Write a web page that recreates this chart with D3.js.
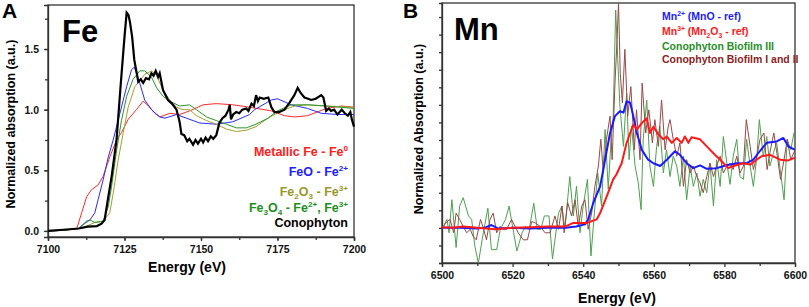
<!DOCTYPE html>
<html>
<head>
<meta charset="utf-8">
<script src="https://cdn.jsdelivr.net/npm/d3@7"></script>
<style>
  body { margin: 0; background: #fff; }
  svg { font-family: "Liberation Sans", Arial, sans-serif; font-weight: bold; }
  .axis path, .axis line { stroke: #333; stroke-width: 1.3; }
  .axis text { font-size: 10.5px; font-weight: bold; fill: #111; font-family: "Liberation Sans", Arial, sans-serif; }
</style>
</head>
<body>
<script>
// ---- panel A: Fe K-edge, [energy, absorption]
var feMetal = [[7100,0],[7105,0.005],[7109.4,0.02],[7111,0.15],[7112.6,0.28],[7114.2,0.34],[7116.4,0.38],[7118,0.45],
  [7120.2,0.61],[7122.4,0.75],[7124,0.81],[7126.2,0.92],[7128.9,1.0],[7131.1,1.07],[7133.3,1.02],[7134.9,0.97],[7136.6,0.94],
  [7139.8,0.97],[7143,0.96],[7146.3,0.99],[7150.7,1.04],[7155,1.05],[7160.4,1.04],[7165.9,1.02],[7173,0.99],[7177.3,0.95],
  [7180.6,0.94],[7184.8,0.95],[7191,1.01],[7195.8,1.03],[7200,1.02]];
var feO = [[7100,0],[7105,0.005],[7110,0.02],[7112.6,0.08],[7113.7,0.09],[7115.3,0.15],[7116.4,0.26],[7118,0.42],[7119.7,0.61],
  [7121.3,0.75],[7123.5,0.97],[7125.7,1.19],[7127.3,1.33],[7128.2,1.35],[7129.5,1.26],[7131.6,1.08],[7133.8,1.0],[7136.5,0.94],
  [7138.2,0.93],[7142,0.96],[7145.2,0.93],[7149.6,0.89],[7155,0.88],[7160.4,0.9],[7165.9,0.96],[7167.5,1.0],[7173,1.08],
  [7175,1.09],[7179.5,1.04],[7184.8,1.01],[7189.3,0.97],[7194.6,0.96],[7200,0.96]];
var fe2o3 = [[7100,0],[7105,0.005],[7110,0.02],[7112.6,0.04],[7115.3,0.07],[7118,0.08],[7120.2,0.15],[7121.3,0.31],[7122.9,0.58],
  [7124.6,0.81],[7126.2,1.02],[7128.4,1.19],[7131.6,1.29],[7133.8,1.32],[7135.5,1.28],[7137.6,1.16],[7139.8,1.08],[7142,1.02],
  [7144.1,1.0],[7146.3,1.0],[7148.5,0.95],[7151.8,0.91],[7155,0.88],[7158.3,0.84],[7161.5,0.82],[7164.8,0.83],[7168,0.86],
  [7171.9,0.93],[7176.2,0.99],[7180.6,1.03],[7184.8,1.04],[7191,1.03],[7200,1.02]];
var fe3o4 = [[7100,0],[7105,0.005],[7110,0.02],[7112,0.06],[7113.7,0.09],[7115.3,0.07],[7118,0.08],[7119.7,0.2],[7120.8,0.37],
  [7122.4,0.66],[7124,0.91],[7125.7,1.11],[7127.8,1.25],[7130,1.32],[7131.6,1.32],[7133.8,1.27],[7135.5,1.18],[7137.6,1.11],
  [7139.8,1.07],[7143,1.03],[7146.3,1.04],[7148.5,1.0],[7151.8,0.94],[7155,0.91],[7158.3,0.88],[7161.5,0.85],[7164.8,0.85],
  [7168,0.88],[7171.9,0.93],[7175,0.99],[7179.5,1.04],[7184.8,1.04],[7191,1.03],[7200,1.01]];
var feConophyton = [[7100,0],[7105,0.01],[7110,0.02],[7113,0.035],[7116,0.04],[7117.5,0.06],[7118.5,0.09],[7119.5,0.25],
  [7120.8,0.45],[7122.4,0.75],[7123.8,1.22],[7125,1.6],[7125.7,1.8],[7126.3,1.78],[7126.8,1.72],[7127.5,1.6],[7128.2,1.41],
  [7129,1.3],[7129.5,1.23],[7130.3,1.25],[7131.1,1.22],[7132,1.26],[7133,1.25],[7133.8,1.3],[7134.5,1.28],[7135.2,1.32],
  [7136,1.27],[7136.5,1.3],[7137.6,1.16],[7138.4,1.12],[7139.2,1.08],[7140.5,1.05],[7142,1.0],[7143,0.9],[7143.6,0.8],
  [7144.5,0.79],[7145.5,0.74],[7146.2,0.76],[7147.4,0.71],[7148.2,0.75],[7149,0.72],[7150,0.76],[7150.7,0.73],[7151.5,0.77],
  [7152.3,0.74],[7153.2,0.78],[7154,0.76],[7155,0.79],[7156,0.89],[7157,0.93],[7158,0.95],[7159,1.0],[7159.4,1.04],
  [7159.8,0.92],[7160.5,0.96],[7161.5,0.98],[7162.5,0.97],[7163.5,1.0],[7164.8,1.01],[7165.5,0.99],[7166.5,1.05],
  [7167.3,1.03],[7168,1.12],[7168.6,1.07],[7169.2,1.1],[7170.5,1.09],[7172,1.1],[7173,1.02],[7174,0.98],[7175.5,0.98],
  [7177.3,1.0],[7179,1.06],[7180.5,1.12],[7181.6,1.18],[7182.5,1.14],[7183.8,1.1],[7185,1.09],[7186,1.08],[7187.5,1.09],
  [7189.3,1.12],[7190,1.1],[7190.9,0.99],[7191.8,1.01],[7192.5,0.99],[7193.5,1.0],[7194.6,0.96],[7196,1.0],[7197,0.97],
  [7198,0.95],[7198.8,0.98],[7199.3,0.92],[7200,0.86]];
var feTicksX = [7100, 7125, 7150, 7175, 7200];
var feTicksY = [0, 0.5, 1.0, 1.5];

// ---- panel B: Mn K-edge
var mnO = [[6500,0],[6505,0],[6510,-0.01],[6512,0],[6514,0.04],[6516,-0.01],[6520,0],[6525,-0.01],[6530,0],[6535,0],
  [6538,0.02],[6540.5,0.05],[6541.4,0.12],[6542.9,0.36],[6544.8,0.59],[6546.2,0.97],[6547.6,1.35],[6549,1.59],[6550.4,1.66],
  [6551.4,1.64],[6552.3,1.8],[6553.3,1.78],[6554.2,1.59],[6555.2,1.35],[6556.6,1.11],[6558.4,0.97],[6559.9,0.92],[6561.8,0.88],
  [6563.7,0.97],[6566,1.09],[6567.4,1.04],[6569.3,0.92],[6571.2,0.85],[6573.1,0.89],[6575,0.84],[6577.8,0.85],[6580.6,0.89],
  [6583.5,0.92],[6586.3,0.92],[6588.2,0.97],[6590,1.09],[6592,1.21],[6594.8,1.23],[6596.7,1.28],[6598.1,1.16],[6600,1.11]];
var mn2o3 = [[6500,0.01],[6503,0],[6506,0.02],[6510,0],[6515,-0.02],[6520,0],[6525,0.01],[6530,0.02],[6535,0.02],[6537.2,0.07],
  [6541,0.07],[6543.8,0.12],[6544.8,0.21],[6546.7,0.45],[6548.5,0.69],[6549.4,0.76],[6550.9,0.92],[6552.3,1.21],[6553.3,1.35],
  [6554.2,1.47],[6555.2,1.4],[6556.6,1.49],[6558,1.56],[6558.9,1.35],[6559.9,1.44],[6561.3,1.33],[6562.7,1.26],[6563.7,1.3],
  [6565.1,1.21],[6566.5,1.28],[6567.9,1.21],[6568.8,1.3],[6569.8,1.21],[6570.7,1.29],[6573.1,1.26],[6575,1.16],[6577.3,1.04],
  [6578.8,0.97],[6581.1,0.85],[6582.5,0.88],[6585.4,0.92],[6587.3,0.9],[6589.1,0.97],[6590.6,1.02],[6592.9,1.04],[6595.8,0.97],
  [6598.1,0.96],[6600,1.0]];
var biofilm3 = [[6500,-0.02],[6501.4,0.12],[6502,-0.07],[6502.8,0.4],[6504,-0.28],[6505,0.31],[6506,0.43],[6507.5,0.17],
  [6508.4,0.12],[6509.3,-0.26],[6510.3,-0.5],[6511.7,-0.07],[6513,0.28],[6514,-0.31],[6515.5,-0.31],[6516.5,-0.02],[6518,0.12],
  [6519,0.31],[6520.3,-0.07],[6521.2,-0.33],[6522.7,-0.07],[6523.6,0.02],[6524.7,-0.02],[6526,0.35],[6527,-0.02],[6528,-0.02],
  [6529,0.17],[6530.3,0.17],[6531.3,-0.44],[6532,-0.17],[6533,0.21],[6534,0.31],[6534.8,-0.02],[6536.2,0.73],[6537.2,0.17],
  [6538.1,0.59],[6539.1,-0.07],[6540,0.31],[6541.2,0.69],[6542.2,-0.4],[6543.1,0.17],[6544.1,0.78],[6545.2,0.31],[6546.2,1.4],
  [6547.1,0.55],[6547.9,1.26],[6548.5,1.59],[6549.2,3.1],[6549.8,2.39],[6550.4,1.73],[6551.4,1.16],[6552.3,1.92],[6553,0.97],
  [6553.7,1.45],[6554.7,0.88],[6555.6,0.64],[6556.4,0.26],[6557,1.26],[6558,1.82],[6558.9,0.88],[6559.9,0.59],[6560.8,1.16],
  [6561.7,1.45],[6562.7,0.78],[6563.6,1.11],[6564.6,0.73],[6565.5,1.02],[6566.5,0.88],[6567.4,0.59],[6568.4,1.02],[6569.3,0.4],
  [6570.3,0.88],[6571.2,0.59],[6572.2,0.78],[6573.1,0.45],[6574,0.69],[6575,0.5],[6575.9,0.92],[6576.9,0.31],[6577.8,0.97],
  [6578.8,0.59],[6579.7,1.3],[6580.7,0.92],[6581.6,0.62],[6582.5,1.02],[6583.5,1.26],[6584.4,0.73],[6585.4,0.69],[6586.3,1.26],
  [6587.3,0.88],[6588.2,0.59],[6589.2,1.02],[6589.9,1.54],[6591,1.02],[6592,1.3],[6592.9,0.88],[6593.9,1.07],[6594.8,1.21],
  [6595.8,0.83],[6596.9,0.4],[6597.8,1.26],[6598.8,1.11],[6599.7,1.35],[6600,1.37]];
var biofilm12 = [[6500,-0.02],[6501,0.07],[6502.3,0.12],[6503.3,-0.07],[6504,0.21],[6505,0.12],[6506,0.02],[6507,-0.07],
  [6508,-0.02],[6508.8,-0.12],[6509.7,-0.17],[6510.9,0.12],[6511.8,-0.02],[6512.6,-0.17],[6513.6,0.12],[6514.5,0.21],
  [6515.5,-0.07],[6516.4,0.02],[6517.4,-0.02],[6518.3,-0.02],[6519.7,0.12],[6520.7,0.02],[6521.6,-0.07],[6523,-0.17],
  [6524.2,-0.17],[6525.4,0.09],[6526.4,0.07],[6527.8,0.02],[6529.2,-0.07],[6530.6,-0.07],[6532,0.17],[6533,-0.02],[6534,0.31],
  [6534.6,-0.07],[6535.6,0.36],[6536.7,0.17],[6537.7,0.4],[6538.6,0.02],[6539.6,0.31],[6540.5,0.4],[6541.4,-0.02],[6542.4,0.21],
  [6543.3,0.59],[6544.3,0.88],[6545,1.26],[6545.7,0.78],[6546.6,1.26],[6547.6,1.59],[6548.2,0.97],[6549,2.06],[6549.6,2.68],
  [6550,3.2],[6550.5,2.2],[6551.1,1.78],[6551.8,2.54],[6552.6,1.59],[6553.5,2.01],[6554.5,1.11],[6555.1,1.68],[6556.1,0.97],
  [6556.7,2.06],[6557.7,1.35],[6558.6,1.68],[6559.6,1.21],[6560.3,1.54],[6561.3,1.16],[6562.2,1.82],[6563.2,1.11],[6564.1,1.45],
  [6564.6,1.54],[6565.5,1.26],[6566.5,1.02],[6567.4,1.21],[6568.4,0.59],[6569.3,0.97],[6570.3,0.78],[6571.2,0.88],[6572.2,0.73],
  [6573.1,0.64],[6574,0.5],[6575,0.73],[6575.9,0.92],[6576.9,0.73],[6577.8,0.88],[6578.8,1.02],[6579.7,0.78],[6580.7,0.88],
  [6581.6,0.92],[6582.5,0.83],[6583.5,1.02],[6584.4,0.78],[6585.4,0.88],[6586.2,1.54],[6587.3,1.16],[6588.2,0.83],[6589.2,1.02],
  [6590.1,1.26],[6591.2,1.35],[6592.1,0.83],[6592.9,1.07],[6594,1.35],[6595,1.02],[6595.9,0.69],[6596.9,0.97],[6597.8,1.26],
  [6598.8,0.97],[6600,1.11]];
var mnTicksX = [6500, 6520, 6540, 6560, 6580, 6600];

var W = 809, H = 307;
var svg = d3.select("body").append("svg").attr("width", W).attr("height", H);

// ================= panel A =================
var xA = d3.scaleLinear().domain([7100, 7200]).range([48, 354]);
var yA = d3.scaleLinear().domain([-0.05, 1.863]).range([237, 5]);
var lineA = d3.line().x(function(d) { return xA(d[0]); }).y(function(d) { return yA(d[1]); });

var gA = svg.append("g");
// frame
gA.append("rect").attr("x", 48).attr("y", 5).attr("width", 306).attr("height", 232)
  .attr("fill", "none").attr("stroke", "#333").attr("stroke-width", 1.3);

// minor ticks
gA.append("g").attr("class", "axis").attr("transform", "translate(0,237)")
  .call(d3.axisBottom(xA).tickValues(d3.range(7100, 7201, 12.5)).tickSize(3).tickFormat(""))
  .select(".domain").remove();
gA.append("g").attr("class", "axis").attr("transform", "translate(48,0)")
  .call(d3.axisLeft(yA).tickValues(d3.range(0, 1.8, 0.25)).tickSize(3).tickFormat(""))
  .select(".domain").remove();
gA.append("g").attr("class", "axis").attr("transform", "translate(0,237)")
  .call(d3.axisBottom(xA).tickValues(feTicksX).tickSize(4).tickPadding(5).tickFormat(d3.format("d")));
gA.append("g").attr("class", "axis").attr("transform", "translate(48,0)")
  .call(d3.axisLeft(yA).tickValues(feTicksY).tickSize(4).tickPadding(5).tickFormat(d3.format(".1f")));

var seriesA = [
  { data: feMetal, color: "#ff2a2a", w: 1 },
  { data: feO, color: "#2a2aff", w: 1 },
  { data: fe2o3, color: "#a3a032", w: 1 },
  { data: fe3o4, color: "#2a962a", w: 1 },
  { data: feConophyton, color: "#000", w: 2.2 }
];
gA.selectAll("path.series").data(seriesA).enter().append("path")
  .attr("class", "series")
  .attr("d", function(d) { return lineA(d.data); })
  .attr("fill", "none")
  .attr("stroke", function(d) { return d.color; })
  .attr("stroke-width", function(d) { return d.w; });

svg.append("text").attr("x", 2).attr("y", 18).attr("font-size", 21).text("A");
svg.append("text").attr("x", 62).attr("y", 42).attr("font-size", 31).text("Fe");
svg.append("text").attr("transform", "translate(15,124) rotate(-90)").attr("text-anchor", "middle")
  .attr("font-size", 12.5).text("Normalized absorption (a.u.)");
svg.append("text").attr("x", 187).attr("y", 272).attr("text-anchor", "middle")
  .attr("font-size", 14).text("Energy (eV)");

// legend A (right aligned)
function legendLine(g, x, y, color, parts, size, anchor) {
  var t = g.append("text").attr("x", x).attr("y", y).attr("text-anchor", anchor)
    .attr("font-size", size).attr("fill", color);
  parts.forEach(function(p) {
    var s = t.append("tspan").text(p[0]);
    if (p[1] === "sup") s.attr("font-size", size * 0.65).attr("dy", -size * 0.4);
    if (p[1] === "sub") s.attr("font-size", size * 0.65).attr("dy", size * 0.25);
    if (p[1] === "n-sup") s.attr("dy", size * 0.4);
    if (p[1] === "n-sub") s.attr("dy", -size * 0.25);
  });
}
legendLine(gA, 348, 156, "#ff2020", [["Metallic Fe - Fe"], ["0", "sup"]], 12.5, "end");
legendLine(gA, 348, 176, "#2020ff", [["FeO - Fe"], ["2+", "sup"]], 12.5, "end");
legendLine(gA, 348, 196, "#9a9828", [["Fe"], ["2", "sub"], ["O", "n-sub"], ["3", "sub"], [" - Fe", "n-sub"], ["3+", "sup"]], 12.5, "end");
legendLine(gA, 348, 212, "#1e8f1e", [["Fe"], ["3", "sub"], ["O", "n-sub"], ["4", "sub"], [" - Fe", "n-sub"], ["2+", "sup"], [", Fe", "n-sup"], ["3+", "sup"]], 12.5, "end");
legendLine(gA, 348, 227, "#000", [["Conophyton"]], 12.5, "end");

// ================= panel B =================
var xB = d3.scaleLinear().domain([6500, 6600]).range([442, 795]);
var yB = d3.scaleLinear().domain([-0.5, 3.2]).range([263, 3]);
var lineB = d3.line().x(function(d) { return xB(d[0]); }).y(function(d) { return yB(d[1]); });

var gB = svg.append("g");
gB.append("defs").append("clipPath").attr("id", "clipB").append("rect")
  .attr("x", 442).attr("y", 3).attr("width", 353).attr("height", 260);
gB.append("rect").attr("x", 442).attr("y", 3).attr("width", 353).attr("height", 260)
  .attr("fill", "none").attr("stroke", "#333").attr("stroke-width", 1.3);

gB.append("g").attr("class", "axis").attr("transform", "translate(0,263)")
  .call(d3.axisBottom(xB).tickValues(d3.range(6510, 6600, 20)).tickSize(3).tickFormat(""))
  .select(".domain").remove();
gB.append("g").attr("class", "axis").attr("transform", "translate(0,263)")
  .call(d3.axisBottom(xB).tickValues(mnTicksX).tickSize(4).tickPadding(5).tickFormat(d3.format("d")));
gB.append("g").attr("class", "axis").attr("transform", "translate(442,0)")
  .call(d3.axisLeft(yB).tickValues(d3.range(-0.5, 3.2, 0.25)).tickSize(3).tickFormat(""));

var seriesB = [
  { data: biofilm3, color: "#4ea04e", w: 1 },
  { data: biofilm12, color: "#9a4848", w: 1 },
  { data: mnO, color: "#1a1aff", w: 2 },
  { data: mn2o3, color: "#ff1a1a", w: 2 }
];
gB.append("g").attr("clip-path", "url(#clipB)")
  .selectAll("path").data(seriesB).enter().append("path")
  .attr("d", function(d) { return lineB(d.data); })
  .attr("fill", "none")
  .attr("stroke", function(d) { return d.color; })
  .attr("stroke-width", function(d) { return d.w; })
  .attr("stroke-linejoin", "round");

svg.append("text").attr("x", 403).attr("y", 18).attr("font-size", 21).text("B");
svg.append("text").attr("x", 454).attr("y", 40).attr("font-size", 31).text("Mn");
svg.append("text").attr("transform", "translate(423,129) rotate(-90)").attr("text-anchor", "middle")
  .attr("font-size", 12.5).text("Normalized Absorption (a.u.)");
svg.append("text").attr("x", 617).attr("y", 303).attr("text-anchor", "middle")
  .attr("font-size", 14).text("Energy (eV)");

legendLine(gB, 662, 20, "#1a1aff", [["Mn"], ["2+", "sup"], [" (MnO - ref)", "n-sup"]], 10.5, "start");
legendLine(gB, 662, 35, "#ff1a1a", [["Mn"], ["3+", "sup"], [" (Mn", "n-sup"], ["2", "sub"], ["O", "n-sub"], ["3", "sub"], [" - ref)", "n-sub"]], 10.5, "start");
legendLine(gB, 662, 50, "#2a8f2a", [["Conophyton Biofilm III"]], 10.5, "start");
legendLine(gB, 662, 63, "#8b1e1e", [["Conophyton Biofilm I and II"]], 10.5, "start");
</script>
</body>
</html>
